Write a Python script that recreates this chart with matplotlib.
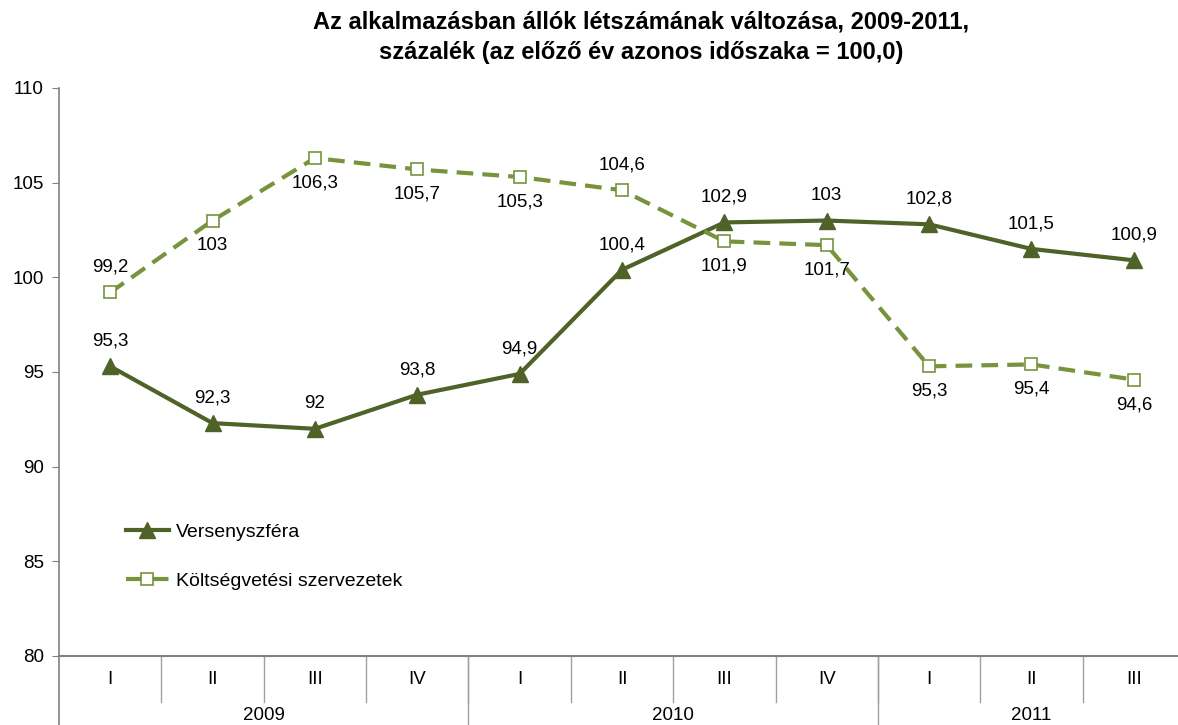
import numpy as np
import matplotlib.pyplot as plt
import matplotlib.transforms as mtransforms
from matplotlib.lines import Line2D

plt.rcParams['font.family'] = ['Liberation Sans', 'DejaVu Sans']

# %%
quarters = ['I', 'II', 'III', 'IV', 'I', 'II', 'III', 'IV', 'I', 'II', 'III']
years = ['2009', '2010', '2011']
year_len = [4, 4, 3]

verseny = [95.3, 92.3, 92.0, 93.8, 94.9, 100.4, 102.9, 103.0, 102.8, 101.5, 100.9]
koltseg = [99.2, 103.0, 106.3, 105.7, 105.3, 104.6, 101.9, 101.7, 95.3, 95.4, 94.6]
# label above (1) or below (-1) the point
verseny_pos = [1, 1, 1, 1, 1, 1, 1, 1, 1, 1, 1]
koltseg_pos = [1, -1, -1, -1, -1, 1, -1, -1, -1, -1, -1]

c_dark = '#4F6228'
c_light = '#77933C'
grey = '#808080'
fs = 13.5

# %%
W, H = 1178, 725
fig = plt.figure(figsize=(W / 100, H / 100), dpi=100)
ax = fig.add_axes([59 / W, 1 - 656 / H, (1185 - 59) / W, (656 - 88) / H])

x = np.arange(len(quarters))
ax.plot(x, verseny, color=c_dark, lw=3, marker='^', ms=11,
        mfc=c_dark, mec=c_dark, label='Versenyszféra', zorder=3)
ax.plot(x, koltseg, color=c_light, lw=3, ls=(0, (4, 2.2)), marker='s', ms=9,
        mfc='white', mec=c_light, mew=1.2, label='Költségvetési szervezetek', zorder=3)

def fmt(v):
    s = ('%.1f' % v).replace('.', ',')
    return s[:-2] if s.endswith(',0') else s

for xi, v, p in zip(x, verseny, verseny_pos):
    ax.annotate(fmt(v), (xi, v), xytext=(0, 18 * p), textcoords='offset points',
                ha='center', va='center', fontsize=fs)
for xi, v, p in zip(x, koltseg, koltseg_pos):
    ax.annotate(fmt(v), (xi, v), xytext=(0, 18 * p), textcoords='offset points',
                ha='center', va='center', fontsize=fs)

ax.set_xlim(-0.5, len(quarters) - 0.5)
ax.set_ylim(80, 110)
ax.set_yticks(np.arange(80, 111, 5))
ax.tick_params(axis='y', direction='out', length=5, color=grey, labelsize=fs, pad=6)
ax.set_xticks([])
for s in ['top', 'right']:
    ax.spines[s].set_visible(False)
ax.spines['left'].set_color(grey)
ax.spines['bottom'].set_color(grey)
ax.spines['left'].set_linewidth(1.2)
ax.spines['bottom'].set_linewidth(1.5)

# two level category axis
tr = mtransforms.blended_transform_factory(ax.transData, ax.transAxes)
q_low = -46 / 568
y_low = -(725 - 656) / 568
for i, q in enumerate(quarters):
    ax.text(i, -24 / 568, q, transform=tr, ha='center', va='center', fontsize=fs)
for i in range(1, len(quarters)):
    ax.add_line(Line2D([i - 0.5, i - 0.5], [0, q_low], transform=tr, color='#A0A0A0',
                       lw=1, clip_on=False))
start = 0
for yr, n in zip(years, year_len):
    ax.text(start + n / 2 - 0.5, -60 / 568, yr, transform=tr, ha='center', va='center',
            fontsize=fs)
    start += n
    if start < len(quarters):
        ax.add_line(Line2D([start - 0.5, start - 0.5], [0, y_low], transform=tr,
                           color='#A0A0A0', lw=1, clip_on=False))
ax.add_line(Line2D([-0.5, -0.5], [0, y_low], transform=tr, color=grey, lw=1.2, clip_on=False))

ax.legend(loc='center left', bbox_to_anchor=(0.044, 0.175), frameon=False, fontsize=14,
          handlelength=2.2, labelspacing=1.65, handletextpad=0.35, borderpad=0.4)

fig.text(641 / W, 1 - 22 / H, 'Az alkalmazásban állók létszámának változása, 2009-2011,',
         ha='center', va='center', fontsize=17, fontweight='bold')
fig.text(641 / W, 1 - 52 / H, 'százalék (az előző év azonos időszaka = 100,0)',
         ha='center', va='center', fontsize=17, fontweight='bold')

fig.savefig('out.png', dpi=100)
